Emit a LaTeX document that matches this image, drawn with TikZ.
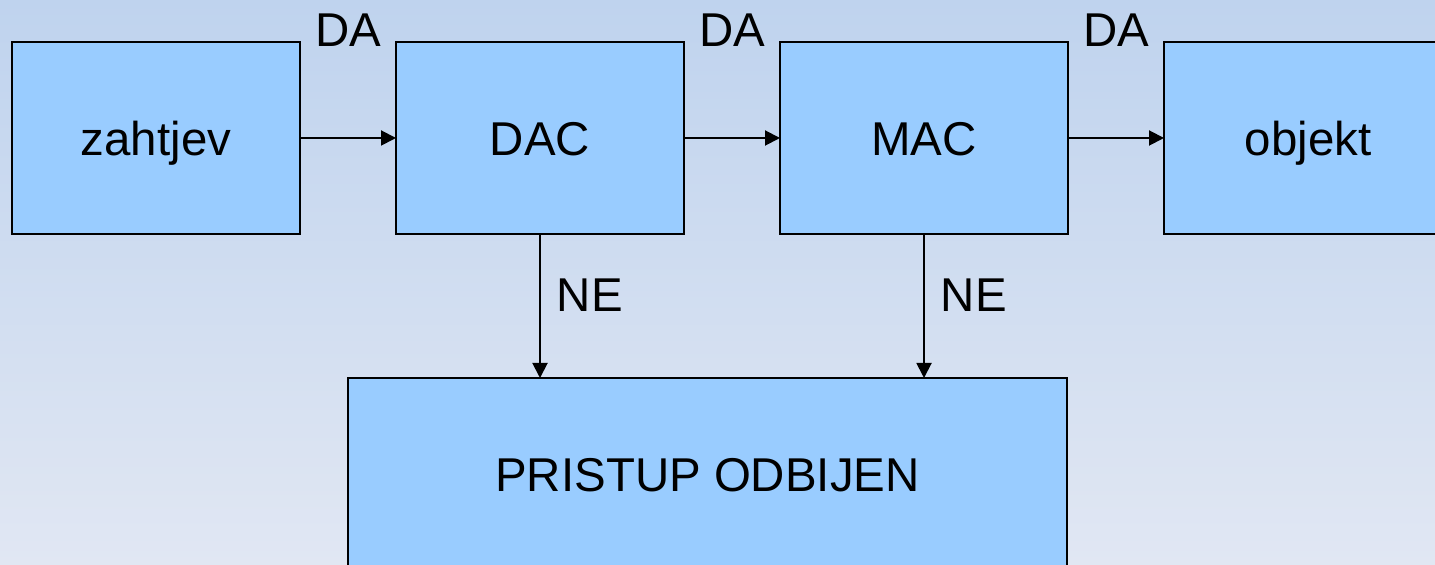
\documentclass[tikz,border=0pt]{standalone}
\usepackage{fontspec}
\setmainfont{Liberation Sans}
\usetikzlibrary{arrows.meta,positioning}
\definecolor{boxblue}{HTML}{99CCFF}
\definecolor{bgtop}{HTML}{BFD3EE}
\definecolor{bgbottom}{HTML}{E1E7F3}

\begin{document}
\begin{tikzpicture}[
    node distance=1.92cm and 1.92cm,
    box/.style={draw, fill=boxblue, line width=1.6pt, outer sep=0pt, minimum width=5.76cm, minimum height=3.84cm, text height=19.4pt, text depth=0pt, font=\fontsize{27}{32}\selectfont},
    lbl/.style={inner sep=0pt, font=\fontsize{27}{32}\selectfont},
    arr/.style={-{Triangle[length=3mm, width=3mm]}, line width=1.1pt},
  ]
  % background and page size
  \shade[top color=bgtop, bottom color=bgbottom] (0,0) rectangle (28.7,-11.3);
  \useasboundingbox (0,0) rectangle (28.7,-11.3);
  \clip (0,0) rectangle (28.7,-11.3);
  \node[box] (zahtjev) at (3.12,-2.76) {zahtjev};
  \node[box, right=of zahtjev] (dac) {DAC};
  \node[box, right=of dac] (mac) {MAC};
  \node[box, right=of mac] (objekt) {objekt};
  \node[box, minimum width=14.38cm] (odbijen) at (14.15,-9.48) {PRISTUP ODBIJEN};
  \draw[arr] (zahtjev) -- node[lbl, yshift=2.16cm] {DA} (dac);
  \draw[arr] (dac) -- node[lbl, yshift=2.16cm] {DA} (mac);
  \draw[arr] (mac) -- node[lbl, yshift=2.16cm] {DA} (objekt);
  % refused access
  \draw[arr] (dac) -- node[lbl, right=0.32cm, yshift=0.22cm] {NE} (dac |- odbijen.north);
  \draw[arr] (mac) -- node[lbl, right=0.32cm, yshift=0.22cm] {NE} (mac |- odbijen.north);
\end{tikzpicture}
\end{document}
